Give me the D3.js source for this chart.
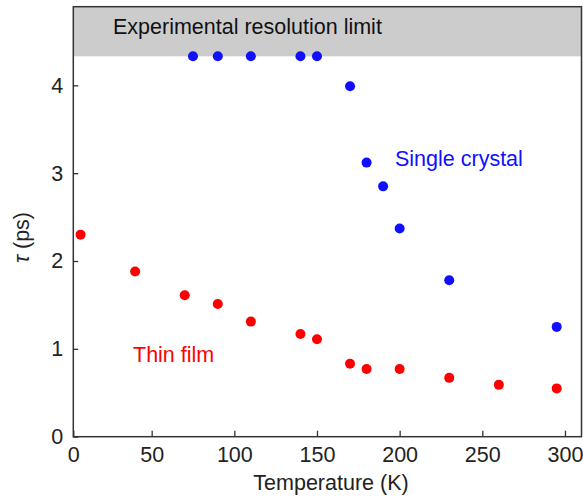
<!DOCTYPE html>
<html>
<head>
<meta charset="utf-8">
<script src="https://cdn.jsdelivr.net/npm/d3@7"></script>
<style>
  body { margin: 0; background: #fff; }
  text { font-family: "Liberation Sans", Arial, Helvetica, sans-serif; }
</style>
</head>
<body>
<div id="chart"></div>
<script>
// ---- data ----
var crystalT   = [75, 90, 110, 140, 150, 170, 180, 190, 200, 230, 295];
var crystalTau = [4.33, 4.33, 4.33, 4.33, 4.33, 3.99, 3.12, 2.85, 2.37, 1.78, 1.25];

var filmT   = [7, 40, 70, 90, 110, 140, 150, 170, 180, 200, 230, 260, 295];
var filmTau = [2.30, 1.88, 1.61, 1.51, 1.31, 1.17, 1.11, 0.83, 0.77, 0.77, 0.67, 0.59, 0.55];

var xTicks = [0, 50, 100, 150, 200, 250, 300];
var yTicks = [0, 1, 2, 3, 4];
var resolutionLimit = 4.33;

var width = 583, height = 497;
var margin = {top: 6.7, right: 1.5, bottom: 60.3, left: 73.3};
var fs = "21.5px";

var svg = d3.select("#chart")
            .append("svg")
            .attr("width", width)
            .attr("height", height);

var x = d3.scaleLinear()
          .domain([2.6, 310])
          .range([margin.left, width - margin.right])
          .clamp(true);

var y = d3.scaleLinear()
          .domain([0, 4.895])
          .range([height - margin.bottom, margin.top]);

// grey band above the resolution limit
svg.append("rect")
   .attr("x", x.range()[0])
   .attr("y", y(y.domain()[1]))
   .attr("width", x.range()[1] - x.range()[0])
   .attr("height", y(resolutionLimit) - y(y.domain()[1]))
   .attr("fill", "#cccccc");

svg.append("text")
   .attr("x", 113)
   .attr("y", 34)
   .attr("font-size", fs)
   .attr("fill", "#111")
   .text("Experimental resolution limit");

// axes, ticks pointing inward
var xAxis = svg.append("g")
   .attr("transform", "translate(0," + y(0) + ")")
   .call(d3.axisBottom(x).tickValues(xTicks).tickSize(-6).tickPadding(10).tickSizeOuter(0));

var yAxis = svg.append("g")
   .attr("transform", "translate(" + x.range()[0] + ",0)")
   .call(d3.axisLeft(y).tickValues(yTicks).tickFormat(d3.format("d"))
           .tickSize(-5).tickPadding(10).tickSizeOuter(0));

[xAxis, yAxis].forEach(function(g) {
  g.select(".domain").remove();
  g.selectAll("line").attr("stroke", "#333").attr("stroke-width", 1.3);
  g.selectAll("text").attr("font-size", fs).attr("fill", "#222")
   .attr("font-family", "'Liberation Sans', Arial, sans-serif");
});

// frame
svg.append("rect")
   .attr("x", x.range()[0])
   .attr("y", y.range()[1])
   .attr("width", x.range()[1] - x.range()[0])
   .attr("height", y.range()[0] - y.range()[1])
   .attr("fill", "none")
   .attr("stroke", "#333")
   .attr("stroke-width", 1.5);

// points
svg.selectAll("circle.film")
   .data(d3.zip(filmT, filmTau))
   .enter()
   .append("circle")
   .attr("class", "film")
   .attr("cx", function(d) { return x(d[0]); })
   .attr("cy", function(d) { return y(d[1]); })
   .attr("r", 5)
   .attr("fill", "#ff0000");

svg.selectAll("circle.crystal")
   .data(d3.zip(crystalT, crystalTau))
   .enter()
   .append("circle")
   .attr("class", "crystal")
   .attr("cx", function(d) { return x(d[0]); })
   .attr("cy", function(d) { return y(d[1]); })
   .attr("r", 5)
   .attr("fill", "#1010ff");

// series labels
svg.append("text")
   .attr("x", 395)
   .attr("y", 166)
   .attr("font-size", fs)
   .attr("fill", "#1010ff")
   .text("Single crystal");

svg.append("text")
   .attr("x", 133)
   .attr("y", 362)
   .attr("font-size", fs)
   .attr("fill", "#ff0000")
   .text("Thin film");

// axis titles
svg.append("text")
   .attr("x", 331)
   .attr("y", 490)
   .attr("text-anchor", "middle")
   .attr("font-size", fs)
   .attr("fill", "#222")
   .text("Temperature (K)");

var yl = svg.append("text")
   .attr("transform", "translate(29,237.5) rotate(-90)")
   .attr("text-anchor", "middle")
   .attr("font-size", fs)
   .attr("fill", "#222");
yl.append("tspan").attr("font-style", "italic").text("τ");
yl.append("tspan").text(" (ps)");
</script>
</body>
</html>
